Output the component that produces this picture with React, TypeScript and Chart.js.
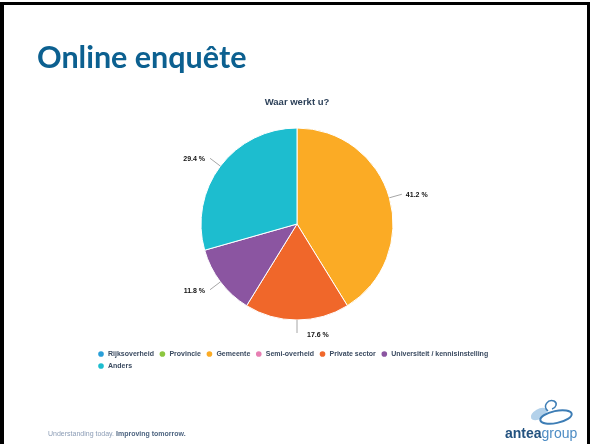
import React, { useEffect, useRef } from "react";
import { Chart, registerables } from "chart.js";

Chart.register(...registerables);

const slideTitle = "Online enquête";
const chartTitle = "Waar werkt u?";
const categories = [
  "Rijksoverheid",
  "Provincie",
  "Gemeente",
  "Semi-overheid",
  "Private sector",
  "Universiteit / kennisinstelling",
  "Anders",
];
const shares = [0, 0, 41.2, 0, 17.6, 11.8, 29.4];
const sliceColors = ["#2a9fd8", "#8cc63f", "#fbab25", "#e77fb3", "#f0672a", "#8b55a1", "#1dbdcf"];
const footerLight = "Understanding today. ";
const footerDark = "Improving tomorrow.";

const FONT = "'Liberation Sans', Arial, sans-serif";

const outLabels = {
  id: "outLabels",
  afterDatasetsDraw(chart: any) {
    const ctx = chart.ctx;
    const meta = chart.getDatasetMeta(0);
    const data = chart.data.datasets[0].data as number[];
    ctx.save();
    meta.data.forEach((arc: any, i: number) => {
      const v = data[i];
      if (!v) return;
      const { x, y, startAngle, endAngle, outerRadius } = arc.getProps(
        ["x", "y", "startAngle", "endAngle", "outerRadius"],
        true
      );
      const mid = (startAngle + endAngle) / 2;
      const c = Math.cos(mid);
      const s = Math.sin(mid);
      const x0 = x + c * outerRadius;
      const y0 = y + s * outerRadius;
      const x1 = x + c * (outerRadius + 13);
      const y1 = y + s * (outerRadius + 13);
      ctx.strokeStyle = "#a6a6a6";
      ctx.lineWidth = 1;
      ctx.beginPath();
      ctx.moveTo(x0, y0);
      ctx.lineTo(x1, y1);
      ctx.stroke();
      ctx.font = `bold 7px ${FONT}`;
      ctx.fillStyle = "#111111";
      ctx.textBaseline = "middle";
      const txt = v.toFixed(1) + " %";
      if (Math.abs(c) < 0.2) {
        ctx.textAlign = "left";
        ctx.fillText(txt, x1 + 10, y1 + 2);
      } else if (c > 0) {
        ctx.textAlign = "left";
        ctx.fillText(txt, x1 + 4, y1 + 1);
      } else {
        ctx.textAlign = "right";
        ctx.fillText(txt, x1 - 5, y1 + 1);
      }
    });
    ctx.restore();
  },
};

export default function App() {
  const canvasRef = useRef<HTMLCanvasElement | null>(null);

  useEffect(() => {
    document.body.style.margin = "0";
    const canvas = canvasRef.current;
    if (!canvas) return;
    const pieGen = (Chart as any).overrides.pie.plugins.legend.labels.generateLabels;
    const chart = new Chart(canvas, {
      type: "pie",
      data: {
        labels: categories,
        datasets: [
          {
            data: shares,
            backgroundColor: sliceColors,
            borderColor: "#ffffff",
            borderWidth: 1,
            radius: 96,
          } as any,
        ],
      },
      options: {
        responsive: false,
        animation: false,
        layout: { padding: { left: 92.5, right: 89.5, top: 96.3, bottom: 64.5 } },
        plugins: {
          title: {
            display: true,
            text: chartTitle,
            color: "#2d4159",
            font: { family: FONT, size: 9.5, weight: "bold", lineHeight: 1.2 },
            padding: { top: 0, bottom: -5.2 },
          },
          legend: {
            position: "bottom",
            align: "start",
            labels: {
              usePointStyle: true,
              pointStyle: "circle",
              boxWidth: 7,
              boxHeight: 4,
              padding: 5,
              color: "#3a4a60",
              font: { family: FONT, size: 7, weight: "bold" },
              generateLabels: (ch: any) =>
                pieGen(ch).map((it: any) => ({ ...it, lineWidth: 0, pointStyle: "circle" })),
            },
          },
          tooltip: { enabled: false },
        },
      } as any,
      plugins: [outLabels],
    });
    return () => chart.destroy();
  }, []);

  return (
    <div style={{ position: "relative", width: 591, height: 444, overflow: "hidden", background: "#fff" }}>
      <canvas ref={canvasRef} width={591} height={444} style={{ position: "absolute", left: 0, top: 0 }} />
      <svg
        width={591}
        height={444}
        style={{ position: "absolute", left: 0, top: 0, pointerEvents: "none" }}
      >
        <rect x={0} y={2} width={4} height={442} fill="#000" />
        <rect x={0} y={2} width={590} height={3} fill="#000" />
        <rect x={587} y={2} width={3} height={442} fill="#000" />
        <text x={37} y={68} fontFamily="Lato, sans-serif" fontWeight="bold" fontSize={30.5} fill="#0c6090">
          {slideTitle}
        </text>
        <text x={48} y={436} fontFamily={FONT} fontSize={7}>
          <tspan fill="#8b9cb5">{footerLight}</tspan>
          <tspan fill="#4d6480" fontWeight="bold">{footerDark}</tspan>
        </text>
        <ellipse cx={539} cy={414} rx={9} ry={5} fill="#b3d1ea" transform="rotate(-30 539 414)" />
        <ellipse cx={556} cy={417} rx={16} ry={6} fill="none" stroke="#3d7db5" strokeWidth={2} transform="rotate(-12 556 417)" />
        <path d="M548 411 C 542 406, 548 399, 554 401 C 558 403, 556 408, 552 409" fill="none" stroke="#3d7db5" strokeWidth={1.5} />
        <text x={505} y={438} fontFamily={FONT} fontSize={14}>
          <tspan fill="#23527f" fontWeight="bold">antea</tspan>
          <tspan fill="#4d8cc4">group</tspan>
        </text>
      </svg>
    </div>
  );
}
